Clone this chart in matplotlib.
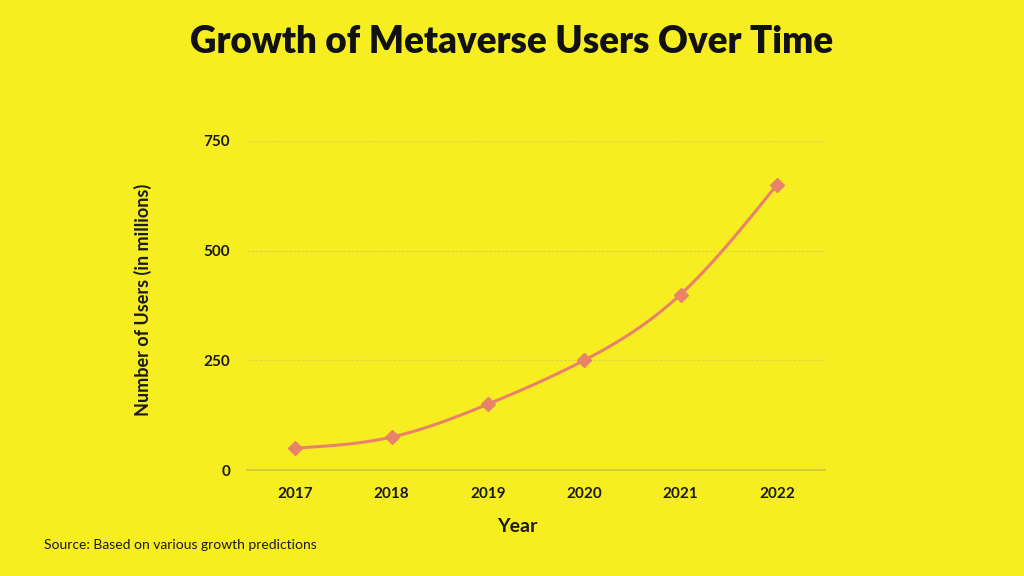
import numpy as np
import matplotlib
matplotlib.use("Agg")
import matplotlib.pyplot as plt

years = [2017, 2018, 2019, 2020, 2021, 2022]
users = [50, 75, 150, 250, 400, 650]
yticks = [0, 250, 500, 750]

BG = "#F7EE22"
LINE = "#E8836A"

plt.rcParams['font.family'] = ['Lato', 'DejaVu Sans']

fig = plt.figure(figsize=(10.24, 5.76), dpi=100, facecolor=BG)
ax = fig.add_axes([247/1024, 1-470/576, (825-247)/1024, (470-141)/576])
ax.set_facecolor(BG)

# smooth curve through the data (natural cubic spline, rendering only)
x = np.array(years, dtype=float)
y = np.array(users, dtype=float)
n = len(x)
h = np.diff(x)
A = np.zeros((n, n)); b = np.zeros(n)
A[0, 0] = A[-1, -1] = 1
for i in range(1, n-1):
    A[i, i-1] = h[i-1]; A[i, i] = 2*(h[i-1]+h[i]); A[i, i+1] = h[i]
    b[i] = 3*((y[i+1]-y[i])/h[i] - (y[i]-y[i-1])/h[i-1])
c = np.linalg.solve(A, b)
xs, ys = [], []
for i in range(n-1):
    bi = (y[i+1]-y[i])/h[i] - h[i]*(2*c[i]+c[i+1])/3
    di = (c[i+1]-c[i])/(3*h[i])
    t = np.linspace(0, h[i], 40)
    xs.extend(x[i]+t); ys.extend(y[i]+bi*t+c[i]*t**2+di*t**3)
ax.plot(xs, ys, color=LINE, lw=2.2, zorder=3, solid_capstyle='round')
ax.plot(years, users, linestyle='none', marker='D', ms=7, color=LINE, zorder=4)

ax.set_xlim(2016.5, 2022.5)
ax.set_ylim(0, 750)
ax.set_xticks(years)
ax.set_xticklabels([str(v) for v in years])
ax.set_yticks(yticks)
ax.set_yticklabels([str(v) for v in yticks])
for s in ['top', 'right', 'left']:
    ax.spines[s].set_visible(False)
ax.spines['bottom'].set_color("#CFC53A")
ax.spines['bottom'].set_linewidth(1.2)
ax.grid(axis='y', color="#E2D83A", lw=1, linestyle=(0, (2, 1)))
ax.set_axisbelow(True)
ax.tick_params(length=0, labelsize=11, colors="#1a1a1a", pad=12)
for lab in ax.get_xticklabels() + ax.get_yticklabels():
    lab.set_fontweight('bold')
ax.tick_params(axis='y', pad=12)

fig.text(512/1024, 1-42/576, "Growth of Metaverse Users Over Time", ha='center', va='center',
         fontsize=26.5, fontweight='heavy', color="#111111")
fig.text(143/1024, 1-300/576, "Number of Users (in millions)", ha='center', va='center',
         rotation=90, fontsize=13, fontweight='bold', color="#1a1a1a")
fig.text(517/1024, 1-526/576, "Year", ha='center', va='center',
         fontsize=14, fontweight='bold', color="#1a1a1a")
fig.text(44/1024, 1-545/576, "Source: Based on various growth predictions", ha='left', va='center',
         fontsize=10, color="#1a1a1a")

fig.savefig("out.png", dpi=100, facecolor=BG)
